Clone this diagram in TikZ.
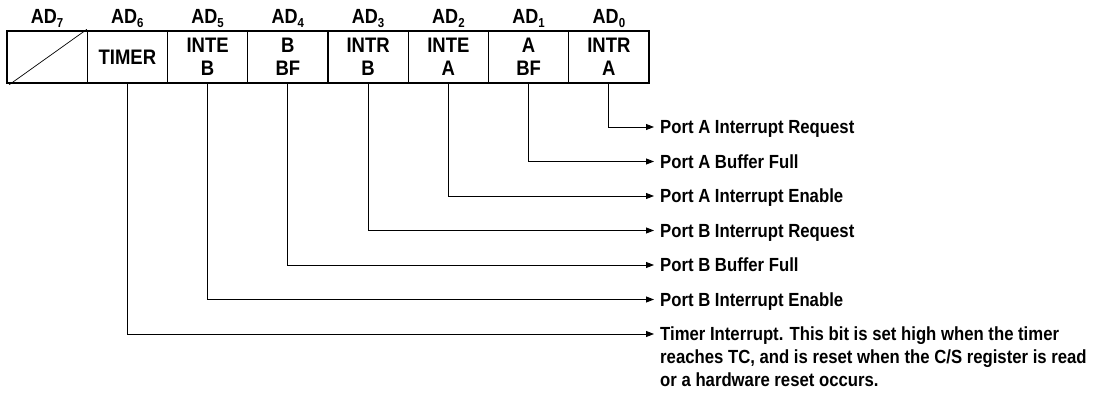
\documentclass[tikz,border=0pt]{standalone}
\usepackage{fontspec}
\setmainfont{Liberation Sans}[FakeStretch=0.88]
\usetikzlibrary{arrows.meta}
\begin{document}
\begin{tikzpicture}[x=1pt,y=-1pt,
  cell/.style={draw, line width=1.3pt, minimum width=80.25pt, minimum height=52pt, inner sep=0pt,
    align=center, font=\fontsize{21}{23}\selectfont\bfseries},
  adlbl/.style={anchor=base, inner sep=0pt, font=\fontsize{20.5}{23}\selectfont\bfseries},
  lbl/.style={anchor=west, inner xsep=6pt, inner ysep=0pt, text height=13pt, text depth=0pt,
    font=\fontsize{19}{22.5}\selectfont\bfseries},
  cont/.style={anchor=base west, inner xsep=6pt, inner ysep=0pt,
    font=\fontsize{19}{22.5}\selectfont\bfseries},
  conn/.style={line width=0.9pt, -{Triangle[length=8pt,width=6pt]}}]
\useasboundingbox (0,0) rectangle (1101,396);
\newcommand{\adsub}[1]{AD\raisebox{-4pt}{\fontsize{13}{13}\selectfont #1}}
% register cells
\node[cell] (c7) at (47.1,57) {};
\node[cell] (c6) at (127.4,57) {TIMER};
\node[cell] (c5) at (207.6,57) {INTE\\B};
\node[cell] (c4) at (287.9,57) {B\\BF};
\node[cell] (c3) at (368.1,57) {INTR\\B};
\node[cell] (c2) at (448.4,57) {INTE\\A};
\node[cell] (c1) at (528.6,57) {A\\BF};
\node[cell] (c0) at (608.9,57) {INTR\\A};
\draw[line width=0.7pt] ([shift={(3pt,-1pt)}]c7.south west) -- ([shift={(-1pt,1pt)}]c7.north east);
% bit labels
\node[adlbl] (a7) at (47.1,24) {\adsub{7}};
\node[adlbl] (a6) at (127.4,24) {\adsub{6}};
\node[adlbl] (a5) at (207.6,24) {\adsub{5}};
\node[adlbl] (a4) at (287.9,24) {\adsub{4}};
\node[adlbl] (a3) at (368.1,24) {\adsub{3}};
\node[adlbl] (a2) at (448.4,24) {\adsub{2}};
\node[adlbl] (a1) at (528.6,24) {\adsub{1}};
\node[adlbl] (a0) at (608.9,24) {\adsub{0}};
% descriptions
\node[lbl] (t0) at (654,127) {Port A Interrupt Request};
\node[lbl] (t1) at (654,161.5) {Port A Buffer Full};
\node[lbl] (t2) at (654,196) {Port A Interrupt Enable};
\node[lbl] (t3) at (654,230.5) {Port B Interrupt Request};
\node[lbl] (t4) at (654,265) {Port B Buffer Full};
\node[lbl] (t5) at (654,299.5) {Port B Interrupt Enable};
\node[lbl] (t6) at (654,334) {Timer Interrupt. This bit is set high when the timer};
\node[cont] (t6b) at (654,363) {reaches TC, and is reset when the C/S register is read};
\node[cont] (t6c) at (654,386) {or a hardware reset occurs.};
% connectors
\draw[conn] (c0.south) |- (t0.west);
\draw[conn] (c1.south) |- (t1.west);
\draw[conn] (c2.south) |- (t2.west);
\draw[conn] (c3.south) |- (t3.west);
\draw[conn] (c4.south) |- (t4.west);
\draw[conn] (c5.south) |- (t5.west);
\draw[conn] (c6.south) |- (t6.west);
\end{tikzpicture}
\end{document}
